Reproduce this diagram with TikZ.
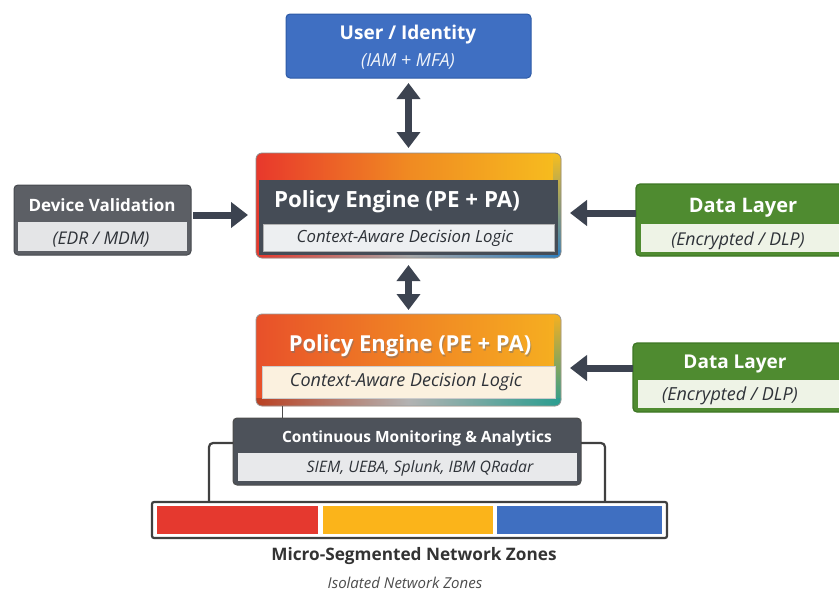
\documentclass[tikz,border=0pt]{standalone}
\usepackage{fontspec}
\setmainfont{Open Sans}
\usetikzlibrary{arrows.meta}

\newcommand\fsz[1]{\fontsize{#1}{#1}\selectfont}

% palette
\definecolor{userblue}{HTML}{3F6FC2}
\definecolor{userline}{HTML}{2D5AA6}
\definecolor{arrowgray}{HTML}{3C4350}
\definecolor{pered}{HTML}{E8382C}
\definecolor{peorange}{HTML}{F08A22}
\definecolor{peyellow}{HTML}{F7BE1E}
\definecolor{edgeblue}{HTML}{2F7FC0}
\definecolor{pedark}{HTML}{454C56}
\definecolor{pelight}{HTML}{EDEFF1}
\definecolor{ptwored}{HTML}{E8502A}
\definecolor{ptwoorange}{HTML}{F08424}
\definecolor{ptwoyellow}{HTML}{F6B020}
\definecolor{ptwoteal}{HTML}{2A9D8F}
\definecolor{ptwolight}{HTML}{FBF1DF}
\definecolor{devdark}{HTML}{5C5F65}
\definecolor{devline}{HTML}{46494E}
\definecolor{devlight}{HTML}{E4E5E7}
\definecolor{green}{HTML}{4F8B30}
\definecolor{greenline}{HTML}{3D7624}
\definecolor{greenlight}{HTML}{EEF3E6}
\definecolor{mondark}{HTML}{4D525A}
\definecolor{monlight}{HTML}{E8E9EB}
\definecolor{zred}{HTML}{E5392F}
\definecolor{zyellow}{HTML}{FBB41A}
\definecolor{zblue}{HTML}{3F6FC1}
\definecolor{inktext}{HTML}{2E3238}

\tikzset{
  frame/.style={inner sep=0pt, outer sep=0pt, minimum width=#1},
  boxtitle/.style={text=white, font=\bfseries\fsz{#1}, inner sep=0pt},
  boxsub/.style={text=inktext, font=\itshape\fsz{#1}, inner sep=0pt},
  link/.style={draw=arrowgray, line width=7pt,
    -{Triangle[width=25pt,length=17pt]}},
  twoway/.style={draw=arrowgray, line width=7pt,
    {Triangle[width=23pt,length=16pt]}-{Triangle[width=23pt,length=16pt]}},
  bracket/.style={draw=black!75, line width=2.2pt, rounded corners=4pt},
}

\begin{document}
\begin{tikzpicture}[x=1pt,y=-1pt]
\useasboundingbox (0,0) rectangle (839,592);

% ---------- container frames ----------
\node[frame=245pt, minimum height=64pt]  (user) at (408.5,46)  {};
\node[frame=305pt, minimum height=105pt] (pe1)  at (408.5,205.5) {};
\node[frame=305pt, minimum height=92pt]  (pe2)  at (408.5,360) {};
\node[frame=177pt, minimum height=70pt]  (dev)  at (102.5,220) {};
\node[frame=214pt, minimum height=72pt]  (dl1)  at (743,220) {};
\node[frame=217pt, minimum height=69pt]  (dl2)  at (741.5,377.5) {};
\node[frame=348pt, minimum height=67pt]  (mon)  at (407,451.5) {};
\node[frame=515pt, minimum height=36pt]  (zones) at (409.5,520) {};

% ---------- user / identity ----------
\fill[userblue, draw=userline, line width=1pt, rounded corners=4pt]
  (user.north west) rectangle (user.south east);
\node[boxtitle=19] (userT) at (408,34.5) {User / Identity};
\node[boxsub=18, text=white!92!userblue] (userS) at (408,61) {(IAM + MFA)};

% ---------- policy engine, upper ----------
\begin{scope}
  \clip[rounded corners=6pt] (pe1.north west) rectangle (pe1.south east);
  \shade[left color=pered, right color=peyellow, middle color=peorange]
    (pe1.north west) rectangle (pe1.south east);
  \shade[top color=peyellow, bottom color=edgeblue]
    ([xshift=-8pt]pe1.north east) rectangle (pe1.south east);
  \shade[left color=pered, right color=edgeblue, middle color=black!35]
    ([yshift=8pt]pe1.south west) rectangle (pe1.south east);
\end{scope}
\draw[black!45, line width=0.8pt, rounded corners=6pt]
  (pe1.north west) rectangle (pe1.south east);
\fill[pedark] ([xshift=3pt,yshift=-27pt]pe1.north west)
  rectangle ([xshift=-3pt,yshift=3pt]pe1.south east);
\fill[pelight, draw=black!30, line width=0.5pt]
  ([xshift=7pt,yshift=-71pt]pe1.north west)
  rectangle ([xshift=-7pt,yshift=7pt]pe1.south east);
\node[boxtitle=22.3] (pe1T) at (397,202) {Policy Engine (PE + PA)};
\node[boxsub=16.8] (pe1S) at (405,238.5) {Context-Aware Decision Logic};

% ---------- policy engine, lower ----------
\begin{scope}
  \clip[rounded corners=6pt] (pe2.north west) rectangle (pe2.south east);
  \shade[left color=ptwored, right color=ptwoyellow, middle color=ptwoorange]
    (pe2.north west) rectangle (pe2.south east);
  \shade[top color=ptwoyellow, bottom color=ptwoteal]
    ([xshift=-7pt]pe2.north east) rectangle (pe2.south east);
  \shade[left color=ptwored!80!black, right color=ptwoteal, middle color=black!30]
    ([yshift=8pt]pe2.south west) rectangle (pe2.south east);
\end{scope}
\draw[black!40, line width=0.8pt, rounded corners=6pt]
  (pe2.north west) rectangle (pe2.south east);
\fill[ptwolight, draw=black!20, line width=0.5pt]
  ([xshift=6pt,yshift=-52pt]pe2.north west)
  rectangle ([xshift=-6pt,yshift=8pt]pe2.south east);
\node[boxtitle=22, text=black!55, opacity=0.5] at (411,347.5) {Policy Engine (PE + PA)};
\node[boxtitle=22] (pe2T) at (410,346) {Policy Engine (PE + PA)};
\node[boxsub=18] (pe2S) at (406,382.5) {Context-Aware Decision Logic};

% ---------- device validation ----------
\fill[devdark, draw=devline, line width=1pt, rounded corners=4pt]
  (dev.north west) rectangle (dev.south east);
\fill[devlight] ([xshift=4pt,yshift=-37pt]dev.north west)
  rectangle ([xshift=-4pt,yshift=4pt]dev.south east);
\node[boxtitle=17] (devT) at (102,205.5) {Device Validation};
\node[boxsub=17.5] (devS) at (101,239.5) {(EDR / MDM)};

% ---------- data layer, upper ----------
\fill[green, draw=greenline, line width=1.2pt, rounded corners=4pt]
  (dl1.north west) rectangle (dl1.south east);
\fill[greenlight] ([xshift=5pt,yshift=-40pt]dl1.north west)
  rectangle ([xshift=-5pt,yshift=4pt]dl1.south east);
\node[boxtitle=20] (dl1T) at (743,207.5) {Data Layer};
\node[boxsub=17.7] (dl1S) at (738,240.5) {(Encrypted / DLP)};

% ---------- data layer, lower ----------
\fill[green, draw=greenline, line width=1.2pt, rounded corners=4pt]
  (dl2.north west) rectangle (dl2.south east);
\fill[greenlight] ([xshift=5pt,yshift=-37pt]dl2.north west)
  rectangle ([xshift=-5pt,yshift=4pt]dl2.south east);
\node[boxtitle=19] (dl2T) at (735,363.5) {Data Layer};
\node[boxsub=18] (dl2S) at (730,395.5) {(Encrypted / DLP)};

% ---------- monitoring ----------
\fill[mondark, draw=black!70, line width=1pt, rounded corners=4pt]
  (mon.north west) rectangle (mon.south east);
\fill[monlight] ([xshift=5pt,yshift=-35pt]mon.north west)
  rectangle ([xshift=-4pt,yshift=4pt]mon.south east);
\node[boxtitle=15.5] (monT) at (417,438.5) {Continuous Monitoring \& Analytics};
\node[boxsub=15.8] (monS) at (420,468.5) {SIEM, UEBA, Splunk, IBM QRadar};

% ---------- network zones ----------
\fill[white, draw=black!75, line width=2.2pt, rounded corners=2pt]
  (zones.north west) rectangle (zones.south east);
\fill[zred]    ([xshift=5pt,yshift=-4pt]zones.north west) rectangle (318,534);
\fill[zyellow] (323,506) rectangle (493,534);
\fill[zblue]   (497,506) rectangle ([xshift=-5pt,yshift=4pt]zones.south east);
\node[font=\bfseries\fsz{17.2}, text=black!80, inner sep=0pt] (zonesT)
  at (414,556) {Micro-Segmented Network Zones};
\node[font=\itshape\fsz{15}, text=black!70, inner sep=0pt] (zonesS)
  at (405,583) {Isolated Network Zones};

% ---------- connectors ----------
\draw[twoway, shorten <=5pt, shorten >=5pt] (user.south) -- (pe1.north);
\draw[twoway, shorten <=7pt, shorten >=4pt] (pe1.south) -- (pe2.north);
\draw[link, shorten <=2pt, shorten >=8pt]
  ([yshift=5pt]dev.east) -- ([yshift=5pt]dev.east -| pe1.west);
\draw[link, shorten >=9pt]
  ([yshift=7pt]dl1.west) -- ([yshift=7pt]dl1.west -| pe1.east);
\draw[link, shorten >=9pt]
  ([yshift=9.5pt]dl2.west) -- ([yshift=9.5pt]dl2.west -| pe2.east);
\draw[black!70, line width=1pt]
  ([xshift=-126pt]pe2.south) -- ([xshift=-126pt]pe2.south |- mon.north);
\draw[bracket] ([yshift=8.5pt]mon.west) -| ([xshift=57pt]zones.north west);
\draw[bracket] ([yshift=8.5pt]mon.east) -| ([xshift=-62pt]zones.north east);
\end{tikzpicture}
\end{document}
